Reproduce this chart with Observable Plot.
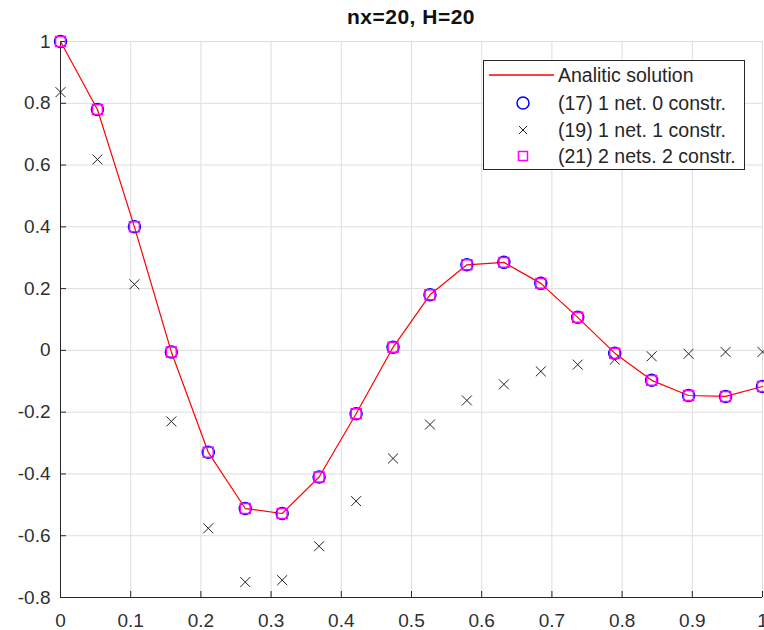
<!DOCTYPE html>
<html>
<head>
<meta charset="utf-8">
<script src="https://cdn.jsdelivr.net/npm/d3@7"></script>
<script src="https://cdn.jsdelivr.net/npm/@observablehq/plot@0.6"></script>
<style>
  body { margin: 0; background: #fff; font-family: "Liberation Sans", Arial, Helvetica, sans-serif; }
  #wrap { position: relative; width: 764px; height: 630px; overflow: hidden; background: #fff; }
  #title { position: absolute; left: 60px; width: 702px; top: 5px; text-align: center; font-weight: bold; font-size: 21px; letter-spacing: 0.5px; color: #111; }
  #legend { position: absolute; left: 483px; top: 60px; width: 262px; height: 110px; border: 1px solid #262626; background: #fff; box-sizing: border-box; }
  .row { position: absolute; left: 0; height: 26px; width: 260px; }
  .row svg { position: absolute; left: 0; top: 0; }
  .row span { position: absolute; left: 74px; top: 2px; font-size: 19.5px; line-height: 22px; color: #262626; white-space: nowrap; }
</style>
</head>
<body>
<div id="wrap">
  <div id="chart"></div>
  <div id="title"></div>
  <div id="legend"></div>
</div>
<script>
const chartTitle = "nx=20, H=20";
const xNodes = [0, 0.0526, 0.1053, 0.1579, 0.2105, 0.2632, 0.3158, 0.3684, 0.4211, 0.4737,
                0.5263, 0.5789, 0.6316, 0.6842, 0.7368, 0.7895, 0.8421, 0.8947, 0.9474, 1];
const analytic = [1.0, 0.78, 0.40, -0.005, -0.33, -0.512, -0.528, -0.41, -0.205, 0.01,
                  0.18, 0.277, 0.285, 0.217, 0.107, -0.009, -0.097, -0.146, -0.149, -0.117];
const net17 = [1.0, 0.78, 0.40, -0.005, -0.33, -0.512, -0.528, -0.41, -0.205, 0.01,
               0.18, 0.277, 0.285, 0.217, 0.107, -0.009, -0.097, -0.146, -0.149, -0.117];
const net19 = [0.836, 0.618, 0.214, -0.23, -0.576, -0.75, -0.744, -0.634, -0.488, -0.35,
               -0.24, -0.162, -0.11, -0.068, -0.046, -0.03, -0.019, -0.011, -0.005, -0.005];
const net21 = [1.0, 0.78, 0.40, -0.005, -0.33, -0.512, -0.528, -0.41, -0.205, 0.01,
               0.18, 0.277, 0.285, 0.217, 0.107, -0.009, -0.097, -0.146, -0.149, -0.117];
const xTicks = [0, 0.1, 0.2, 0.3, 0.4, 0.5, 0.6, 0.7, 0.8, 0.9, 1];
const yTicks = [-0.8, -0.6, -0.4, -0.2, 0, 0.2, 0.4, 0.6, 0.8, 1];
const seriesNames = ["Analitic solution", "(17) 1 net. 0 constr.", "(19) 1 net. 1 constr.", "(21) 2 nets. 2 constr."];

const toRows = (vals) => xNodes.map((x, i) => ({x, y: vals[i]}));

const plot = Plot.plot({
  width: 764,
  height: 630,
  marginTop: 41,
  marginBottom: 33,
  marginLeft: 60,
  marginRight: 2,
  x: {domain: [0, 1]},
  y: {domain: [-0.8, 1]},
  style: {fontFamily: '"Liberation Sans", Arial, sans-serif', fontSize: "19px", color: "#303030", background: "transparent", overflow: "visible"},
  marks: [
    Plot.ruleX(xTicks, {stroke: "#dedede", strokeWidth: 1}),
    Plot.ruleY(yTicks, {stroke: "#dedede", strokeWidth: 1}),
    Plot.ruleX([0], {stroke: "#262626", strokeWidth: 1}),
    Plot.ruleY([-0.8], {stroke: "#262626", strokeWidth: 1}),
    Plot.axisX({ticks: xTicks, tickSize: -6, tickPadding: 22, tickFormat: d => String(d), stroke: "#262626", label: null}),
    Plot.axisY({ticks: yTicks, tickSize: -6, tickPadding: 16, tickFormat: d => String(d), stroke: "#262626", label: null}),
    Plot.line(toRows(analytic), {x: "x", y: "y", stroke: "#ff0000", strokeWidth: 1.2}),
    Plot.dot(toRows(net17), {x: "x", y: "y", symbol: "circle", r: 6, stroke: "#0000ff", strokeWidth: 1.5, fill: "none"}),
    Plot.dot(toRows(net19), {x: "x", y: "y", symbol: "times", r: 4.6, stroke: "#222222", strokeWidth: 1}),
    Plot.dot(toRows(net21), {x: "x", y: "y", symbol: "square", r: 5.6, stroke: "#ff00ff", strokeWidth: 1.5, fill: "none"})
  ]
});
document.getElementById("chart").appendChild(plot);
document.getElementById("title").textContent = chartTitle;

// Legend
const legend = document.getElementById("legend");
const centers = [14, 42, 69, 95];
const symbols = [
  '<line x1="5" y1="13" x2="70" y2="13" stroke="#ff0000" stroke-width="1.5"/>',
  '<circle cx="39" cy="13" r="6" fill="none" stroke="#0000ff" stroke-width="1.5"/>',
  '<path d="M35,9L43,17M43,9L35,17" stroke="#222" stroke-width="1"/>',
  '<rect x="34.5" y="8.5" width="9" height="9" fill="none" stroke="#ff00ff" stroke-width="1.5"/>'
];
seriesNames.forEach((name, i) => {
  const row = document.createElement("div");
  row.className = "row";
  row.style.top = (centers[i] - 13) + "px";
  row.innerHTML = `<svg width="72" height="26">${symbols[i]}</svg><span>${name}</span>`;
  legend.appendChild(row);
});
</script>
</body>
</html>
